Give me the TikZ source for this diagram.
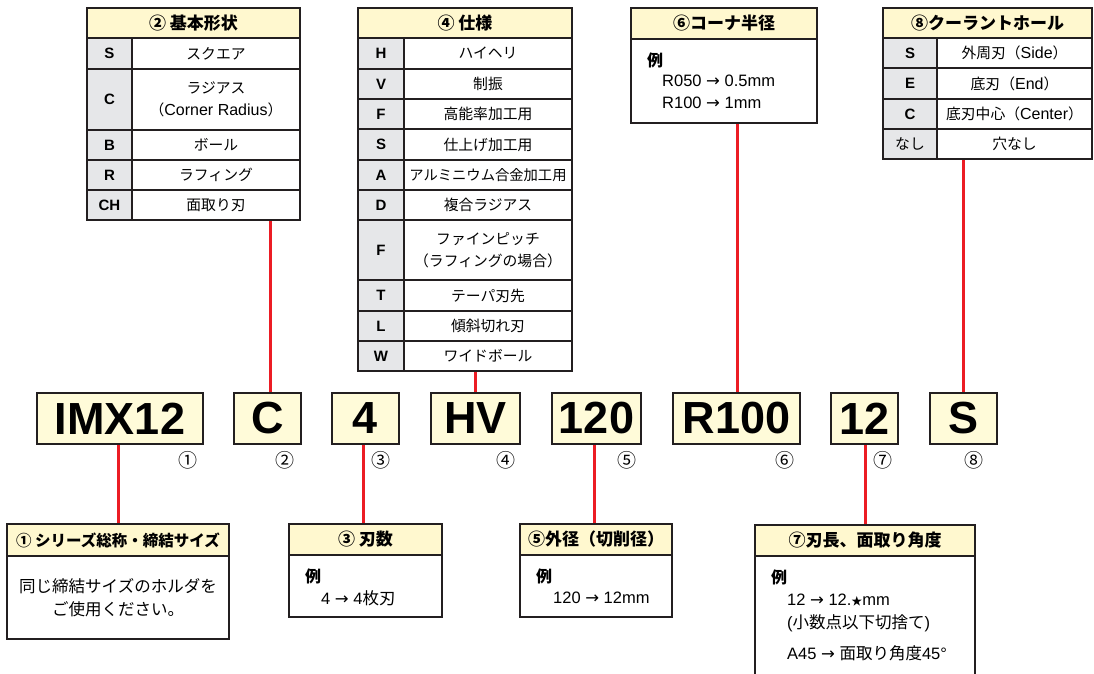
\documentclass[tikz,border=0pt]{standalone}
\usepackage{fontspec}
\setmainfont{Liberation Sans}
\newfontfamily\jp{Noto Sans CJK JP}
\newfontfamily\dvs{DejaVu Sans}
\newcommand\latf{\rmfamily\fontsize{16}{22}\selectfont}
\newcommand\myarr{{\dvs →}}
\definecolor{bord}{HTML}{231F20}
\definecolor{hdrfill}{HTML}{FFF8CF}
\definecolor{boxfill}{HTML}{FFFBD9}
\definecolor{keyfill}{HTML}{E6E7E9}
\definecolor{redl}{HTML}{EC1C24}
\tikzset{
  cell/.style={draw=bord, line width=1.2pt, inner sep=0pt, outer sep=0pt, anchor=north west, align=center},
  hdr/.style={cell, fill=hdrfill, font=\jp\bfseries\fontsize{17}{19}\selectfont},
  keyc/.style={cell, fill=keyfill, font=\bfseries\fontsize{15}{18}\selectfont},
  valc/.style={cell, fill=white, font=\jp\fontsize{14.8}{22}\selectfont},
  bodyc/.style={cell, fill=white},
  outerb/.style={draw=bord, line width=2.4pt},
  codebox/.style={draw=bord, line width=2.4pt, fill=boxfill, inner sep=0pt, outer sep=0pt, anchor=north west, minimum height=51pt, font=\bfseries\fontsize{45}{45}\selectfont},
  cnum/.style={font=\jp\fontsize{19}{19}\selectfont},
  redline/.style={draw=redl, line width=3pt, shorten <=1.2pt, shorten >=1.2pt},
  exlab/.style={anchor=west, inner sep=0pt, font=\jp\bfseries\fontsize{16}{16}\selectfont},
  bodyt/.style={anchor=west, inner sep=0pt, font=\fontsize{16.5}{16.5}\selectfont},
}
\begin{document}
\begin{tikzpicture}[x=1pt,y=-1pt]
\fill[white] (0,0) rectangle (1094,674);
\useasboundingbox (0,0) rectangle (1094,674);

% ---------- code boxes ----------
\node[codebox, minimum width=166pt] (cIMX) at (37,393) {IMX12};
\node[codebox, minimum width=67pt] (cC) at (234,393) {C};
\node[codebox, minimum width=67pt] (c4) at (332,393) {4};
\node[codebox, minimum width=89pt] (cHV) at (431,393) {HV};
\node[codebox, minimum width=89pt] (c120) at (552,393) {120};
\node[codebox, minimum width=127pt] (cR) at (673,393) {R100};
\node[codebox, minimum width=67pt] (c12) at (831,393) {12};
\node[codebox, minimum width=67pt] (cS) at (930,393) {S};

\node[cnum] (n1) at (188,460) {①};
\node[cnum] (n2) at (285,460) {②};
\node[cnum] (n3) at (381,460) {③};
\node[cnum] (n4) at (506,460) {④};
\node[cnum] (n5) at (627,460) {⑤};
\node[cnum] (n6) at (785,460) {⑥};
\node[cnum] (n7) at (883,460) {⑦};
\node[cnum] (n8) at (974,460) {⑧};

% ---------- junction x positions ----------
\coordinate (j2) at (270,0);
\coordinate (j4) at (475,0);
\coordinate (j6) at (737,0);
\coordinate (j8) at (963,0);
\coordinate (j1) at (118,0);
\coordinate (j3) at (363,0);
\coordinate (j5) at (594,0);
\coordinate (j7) at (865,0);

% ---------- table 2 ----------
\node[hdr, minimum width=213pt, minimum height=30pt] (t2h) at (87,8) {② 基本形状};
\node[keyc, minimum width=45pt, minimum height=31pt] (t2k1) at (87,38) {S};
\node[valc, minimum width=168pt, minimum height=31pt] (t2v1) at (132,38) {スクエア};
\node[keyc, minimum width=45pt, minimum height=61pt] (t2k2) at (87,69) {C};
\node[valc, minimum width=168pt, minimum height=61pt] (t2v2) at (132,69) {ラジアス\\（{\latf Corner Radius}）};
\node[keyc, minimum width=45pt, minimum height=30pt] (t2k3) at (87,130) {B};
\node[valc, minimum width=168pt, minimum height=30pt] (t2v3) at (132,130) {ボール};
\node[keyc, minimum width=45pt, minimum height=30pt] (t2k4) at (87,160) {R};
\node[valc, minimum width=168pt, minimum height=30pt] (t2v4) at (132,160) {ラフィング};
\node[keyc, minimum width=45pt, minimum height=30pt] (t2k5) at (87,190) {CH};
\node[valc, minimum width=168pt, minimum height=30pt] (t2v5) at (132,190) {面取り刃};
\draw[outerb] (t2h.north west) rectangle (t2v5.south east);

% ---------- table 4 ----------
\node[hdr, minimum width=214pt, minimum height=30pt] (t4h) at (358,8) {④ 仕様};
\node[keyc, minimum width=46pt, minimum height=31pt] (t4k1) at (358,38) {H};
\node[valc, minimum width=168pt, minimum height=31pt] (t4v1) at (404,38) {ハイヘリ};
\node[keyc, minimum width=46pt, minimum height=30pt] (t4k2) at (358,69) {V};
\node[valc, minimum width=168pt, minimum height=30pt] (t4v2) at (404,69) {制振};
\node[keyc, minimum width=46pt, minimum height=30pt] (t4k3) at (358,99) {F};
\node[valc, minimum width=168pt, minimum height=30pt] (t4v3) at (404,99) {高能率加工用};
\node[keyc, minimum width=46pt, minimum height=31pt] (t4k4) at (358,129) {S};
\node[valc, minimum width=168pt, minimum height=31pt] (t4v4) at (404,129) {仕上げ加工用};
\node[keyc, minimum width=46pt, minimum height=30pt] (t4k5) at (358,160) {A};
\node[valc, minimum width=168pt, minimum height=30pt, font=\jp\fontsize{14.3}{22}\selectfont] (t4v5) at (404,160) {アルミニウム合金加工用};
\node[keyc, minimum width=46pt, minimum height=30pt] (t4k6) at (358,190) {D};
\node[valc, minimum width=168pt, minimum height=30pt] (t4v6) at (404,190) {複合ラジアス};
\node[keyc, minimum width=46pt, minimum height=60pt] (t4k7) at (358,220) {F};
\node[valc, minimum width=168pt, minimum height=60pt] (t4v7) at (404,220) {ファインピッチ\\（ラフィングの場合）};
\node[keyc, minimum width=46pt, minimum height=31pt] (t4k8) at (358,280) {T};
\node[valc, minimum width=168pt, minimum height=31pt] (t4v8) at (404,280) {テーパ刃先};
\node[keyc, minimum width=46pt, minimum height=30pt] (t4k9) at (358,311) {L};
\node[valc, minimum width=168pt, minimum height=30pt] (t4v9) at (404,311) {傾斜切れ刃};
\node[keyc, minimum width=46pt, minimum height=30pt] (t4k10) at (358,341) {W};
\node[valc, minimum width=168pt, minimum height=30pt] (t4v10) at (404,341) {ワイドボール};
\draw[outerb] (t4h.north west) rectangle (t4v10.south east);

% ---------- table 6 ----------
\node[hdr, minimum width=186pt, minimum height=31pt] (t6h) at (631,8) {⑥コーナ半径};
\node[bodyc, minimum width=186pt, minimum height=84pt] (t6b) at (631,39) {};
\draw[outerb] (t6h.north west) rectangle (t6b.south east);
\node[exlab] (t6ex) at (647,60) {例};
\node[bodyt] (t6l1) at (662,81) {R050 \myarr{} 0.5mm};
\node[bodyt] (t6l2) at (662,103) {R100 \myarr{} 1mm};

% ---------- table 8 ----------
\node[hdr, minimum width=209pt, minimum height=30pt] (t8h) at (883,8) {⑧クーラントホール};
\node[keyc, minimum width=54pt, minimum height=30pt] (t8k1) at (883,38) {S};
\node[valc, minimum width=155pt, minimum height=30pt] (t8v1) at (937,38) {外周刃（{\latf Side}）};
\node[keyc, minimum width=54pt, minimum height=31pt] (t8k2) at (883,68) {E};
\node[valc, minimum width=155pt, minimum height=31pt] (t8v2) at (937,68) {底刃（{\latf End}）};
\node[keyc, minimum width=54pt, minimum height=30pt] (t8k3) at (883,99) {C};
\node[valc, minimum width=155pt, minimum height=30pt] (t8v3) at (937,99) {底刃中心（{\latf Center}）};
\node[keyc, minimum width=54pt, minimum height=30pt, font=\jp\fontsize{14.8}{18}\selectfont] (t8k4) at (883,129) {なし};
\node[valc, minimum width=155pt, minimum height=30pt] (t8v4) at (937,129) {穴なし};
\draw[outerb] (t8h.north west) rectangle (t8v4.south east);

% ---------- table 1 ----------
\node[hdr, minimum width=222pt, minimum height=32pt, font=\jp\bfseries\fontsize{15.5}{18}\selectfont] (t1h) at (7,524) {① シリーズ総称・締結サイズ};
\node[bodyc, minimum width=222pt, minimum height=83pt, font=\jp\fontsize{16.5}{23}\selectfont] (t1b) at (7,556) {同じ締結サイズのホルダを\\ご使用ください。};
\draw[outerb] (t1h.north west) rectangle (t1b.south east);

% ---------- table 3 ----------
\node[hdr, minimum width=153pt, minimum height=31pt] (t3h) at (289,524) {③ 刃数};
\node[bodyc, minimum width=153pt, minimum height=62pt] (t3b) at (289,555) {};
\draw[outerb] (t3h.north west) rectangle (t3b.south east);
\node[exlab] (t3ex) at (305,576) {例};
\node[bodyt] (t3l1) at (321,598) {4 \myarr{} 4{\jp 枚刃}};

% ---------- table 5 ----------
\node[hdr, minimum width=152pt, minimum height=31pt] (t5h) at (520,524) {⑤外径（切削径）};
\node[bodyc, minimum width=152pt, minimum height=62pt] (t5b) at (520,555) {};
\draw[outerb] (t5h.north west) rectangle (t5b.south east);
\node[exlab] (t5ex) at (536,576) {例};
\node[bodyt] (t5l1) at (553,598) {120 \myarr{} 12mm};

% ---------- table 7 ----------
\node[hdr, minimum width=220pt, minimum height=31pt] (t7h) at (755,525) {⑦刃長、面取り角度};
\node[bodyc, minimum width=220pt, minimum height=140pt] (t7b) at (755,556) {};
\draw[outerb] (t7h.north west) rectangle (t7b.south east);
\node[exlab] (t7ex) at (771,577) {例};
\node[bodyt] (t7l1) at (787,600) {12 \myarr{} 12.{\jp\fontsize{11}{11}\selectfont ★}mm};
\node[bodyt] (t7l2) at (787,623) {({\jp 小数点以下切捨て})};
\node[bodyt] (t7l3) at (787,653) {A45 \myarr{} {\jp 面取り角度}45°};

% ---------- connectors ----------
\draw[redline] (t2v5.south -| j2) -- (cC.north -| j2);
\draw[redline] (t4v10.south -| j4) -- (cHV.north -| j4);
\draw[redline] (t6b.south -| j6) -- (cR.north -| j6);
\draw[redline] (t8v4.south -| j8) -- (cS.north -| j8);
\draw[redline] (cIMX.south -| j1) -- (t1h.north -| j1);
\draw[redline] (c4.south -| j3) -- (t3h.north -| j3);
\draw[redline] (c120.south -| j5) -- (t5h.north -| j5);
\draw[redline] (c12.south -| j7) -- (t7h.north -| j7);
\end{tikzpicture}
\end{document}
